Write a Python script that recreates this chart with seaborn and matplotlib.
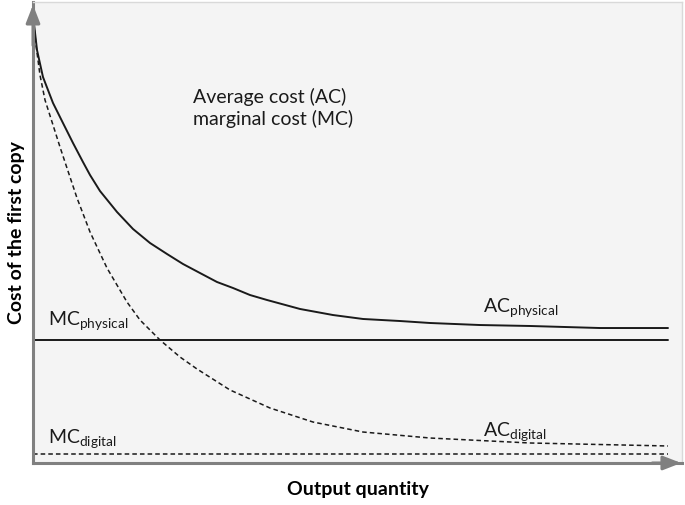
import numpy as np
import pandas as pd
import matplotlib
matplotlib.use("Agg")
import matplotlib.pyplot as plt
import seaborn as sns

# ---- data (quantity 0..100, cost 0..100) ----
ac_phys_x = [0, 0.63, 1.57, 3.15, 4.72, 6.30, 7.87, 8.98, 10.55, 13.23, 15.75, 18.43, 21.10,
             23.62, 26.30, 28.98, 31.50, 34.17, 36.85, 42.05, 47.24, 51.97, 57.80, 62.52,
             70.39, 78.27, 89.29, 100]
ac_phys_y = [97.18, 89.59, 83.73, 78.09, 73.75, 69.41, 65.29, 62.47, 59.00, 54.45, 50.76, 47.72,
             45.34, 43.17, 41.21, 39.26, 37.96, 36.44, 35.36, 33.41, 32.10, 31.24, 30.80, 30.37,
             29.93, 29.72, 29.28, 29.28]
ac_dig_x = [0, 0.47, 1.10, 1.89, 3.15, 4.25, 5.35, 6.93, 8.98, 11.65, 14.80, 16.85, 20.0,
            23.15, 25.83, 31.02, 37.32, 44.09, 51.97, 62.52, 78.27, 100]
ac_dig_y = [97.18, 90.67, 84.16, 78.74, 73.32, 68.55, 63.99, 57.48, 50.11, 42.30, 34.92, 31.02,
            26.68, 22.99, 20.39, 15.84, 11.93, 8.89, 6.72, 5.42, 4.34, 3.69]
mc_x = [0, 100]
mc_phys_y = [26.7, 26.7]
mc_dig_y = [2.0, 2.0]

sns.set_theme(style="white")
plt.rcParams['font.family'] = ['Lato', 'DejaVu Sans']
plt.rcParams['mathtext.fontset'] = 'custom'
plt.rcParams['mathtext.rm'] = 'Lato'
plt.rcParams['mathtext.it'] = 'Lato'

fig = plt.figure(figsize=(6.85, 5.05), dpi=100)
ax = fig.add_axes([33/685, 42/505, 649/685, 461/505])
ax.set_facecolor('#f4f4f4')

df_ap = pd.DataFrame({'x': ac_phys_x, 'y': ac_phys_y})
df_ad = pd.DataFrame({'x': ac_dig_x, 'y': ac_dig_y})
df_mp = pd.DataFrame({'x': mc_x, 'y': mc_phys_y})
df_md = pd.DataFrame({'x': mc_x, 'y': mc_dig_y})

common = dict(ax=ax, color='#1a1a1a', sort=False, estimator=None)
sns.lineplot(data=df_ap, x='x', y='y', lw=1.4, solid_joinstyle='round', **common)
sns.lineplot(data=df_mp, x='x', y='y', lw=1.4, **common)
sns.lineplot(data=df_ad, x='x', y='y', lw=1.1, linestyle=(0, (3, 2)), **common)
sns.lineplot(data=df_md, x='x', y='y', lw=1.1, linestyle=(0, (3, 2)), **common)

ax.set_xlim(0, 649/635*100)
ax.set_ylim(0, 100)
ax.set_xticks([])
ax.set_yticks([])

for s in ['top', 'right']:
    ax.spines[s].set_color('#d9d9d9')
    ax.spines[s].set_linewidth(1.0)
for s in ['left', 'bottom']:
    ax.spines[s].set_color('#808080')
    ax.spines[s].set_linewidth(2.2)

# arrows
ax.annotate('', xy=(0, 1.0), xytext=(0, 0.9), xycoords='axes fraction',
            arrowprops=dict(arrowstyle='-|>,head_length=0.9,head_width=0.35', color='#808080', lw=2.2),
            annotation_clip=False)
ax.annotate('', xy=(1.003, 0), xytext=(0.95, 0), xycoords='axes fraction',
            arrowprops=dict(arrowstyle='-|>,head_length=0.9,head_width=0.35', color='#808080', lw=2.2),
            annotation_clip=False)

ax.set_xlabel('Output quantity', fontsize=14, fontweight='bold', color='black', labelpad=13)
ax.set_ylabel('Cost of the first copy', fontsize=14, fontweight='bold', color='black', labelpad=6)

fs = 14
ax.text(25.2, 81.3, 'Average cost (AC)\nmarginal cost (MC)', fontsize=fs, va='top', ha='left',
        linespacing=1.25, color='#1a1a1a')
ax.text(2.3, 29.9, r'MC$_{\mathrm{physical}}$', fontsize=fs, ha='left', va='baseline', color='#1a1a1a')
ax.text(70.9, 32.8, r'AC$_{\mathrm{physical}}$', fontsize=fs, ha='left', va='baseline', color='#1a1a1a')
ax.text(70.9, 5.9, r'AC$_{\mathrm{digital}}$', fontsize=fs, ha='left', va='baseline', color='#1a1a1a')
ax.text(2.3, 4.3, r'MC$_{\mathrm{digital}}$', fontsize=fs, ha='left', va='baseline', color='#1a1a1a')

fig.savefig('out.png', dpi=100)
